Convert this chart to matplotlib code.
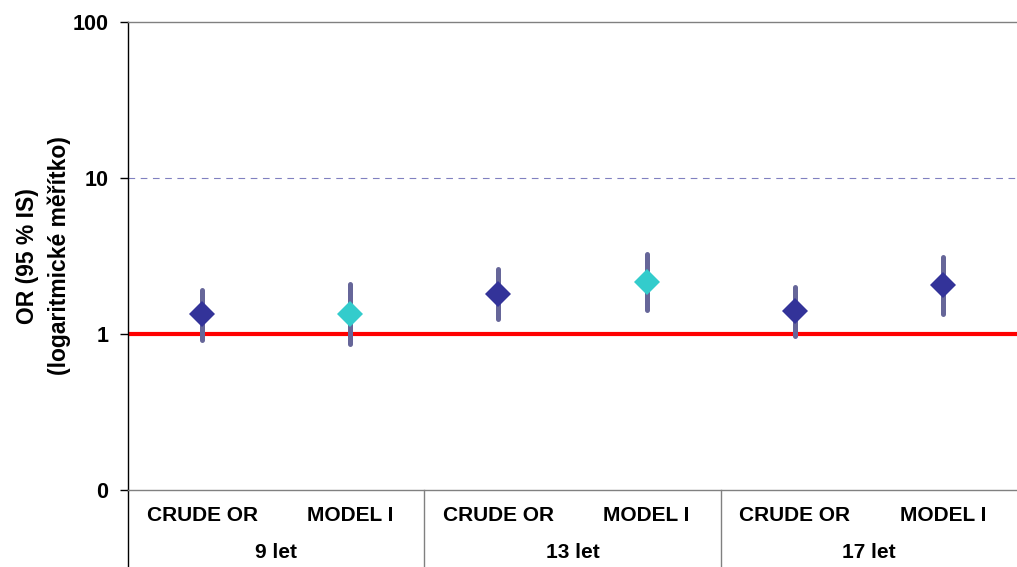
import matplotlib
matplotlib.use("Agg")
import matplotlib.pyplot as plt
import matplotlib.transforms as mtransforms
from matplotlib.ticker import FixedLocator, FixedFormatter, NullLocator

# ---- data ----
categories = ["CRUDE OR", "MODEL I", "CRUDE OR", "MODEL I", "CRUDE OR", "MODEL I"]
groups = ["9 let", "13 let", "17 let"]
or_values = [1.34, 1.34, 1.81, 2.15, 1.40, 2.06]
ci_lower = [0.915, 0.863, 1.25, 1.43, 0.97, 1.34]
ci_upper = [1.92, 2.09, 2.61, 3.26, 2.00, 3.12]
marker_colors = ["#333399", "#33CCCC", "#333399", "#33CCCC", "#333399", "#333399"]
ytick_values = [0.1, 1, 10, 100]
ytick_labels = ["0", "1", "10", "100"]

plt.rcParams['font.family'] = ['Liberation Sans', 'DejaVu Sans']
plt.rcParams['font.weight'] = 'bold'

fig = plt.figure(figsize=(10.17, 5.67), dpi=100)
ax = fig.add_axes([128 / 1017, 77 / 567, 1 - 128 / 1017, 468 / 567])

x = list(range(len(categories)))
ax.set_yscale('log')
ax.set_ylim(0.1, 100)
ax.set_xlim(-0.5, len(categories) - 0.5)

# reference lines
ax.axhline(1, color="#FF0000", lw=3, zorder=1)
ax.axhline(10, color="#8080C0", lw=0.8, ls=(0, (6, 5)), zorder=1)

for xi, v, lo, hi, c in zip(x, or_values, ci_lower, ci_upper, marker_colors):
    ax.plot([xi, xi], [lo, hi], color="#666699", lw=3.6, solid_capstyle='round', zorder=2)
    ax.plot([xi], [v], marker='D', ms=13.5, color=c, mew=0, ls='none', zorder=3)

# spines
ax.spines['right'].set_visible(False)
ax.spines['top'].set_color('#808080')
ax.spines['bottom'].set_color('#808080')
ax.spines['left'].set_color('#000000')
for s in ax.spines.values():
    s.set_linewidth(1.0)

ax.yaxis.set_major_locator(FixedLocator(ytick_values))
ax.yaxis.set_major_formatter(FixedFormatter(ytick_labels))
ax.yaxis.set_minor_locator(NullLocator())
ax.tick_params(axis='y', length=6, width=1, color='#000000', labelsize=15.5, pad=8)
for lab in ax.get_yticklabels():
    lab.set_fontweight('bold')
ax.set_xticks([])

ax.set_ylabel("OR (95 % IS)\n(logaritmické měřítko)", fontsize=16.5, fontweight='bold',
              linespacing=1.45)
ax.yaxis.set_label_coords(-0.064, 0.5)

trans = mtransforms.blended_transform_factory(ax.transData, ax.transAxes)
bottom = -77 / 468
for xi, cat in zip(x, categories):
    ax.text(xi, -0.055, cat, transform=trans, ha='center', va='center',
            fontsize=15, fontweight='bold', clip_on=False)
for gi, g in enumerate(groups):
    ax.text(2 * gi + 0.5, -0.133, g, transform=trans, ha='center', va='center',
            fontsize=15, fontweight='bold', clip_on=False)
# group separators (including left axis extension)
for sep in [-0.5, 1.5, 3.5]:
    ax.plot([sep, sep], [0, bottom], transform=trans, color='#000000' if sep == -0.5 else '#808080',
            lw=1.0, clip_on=False)

fig.savefig("out.png", dpi=100)
